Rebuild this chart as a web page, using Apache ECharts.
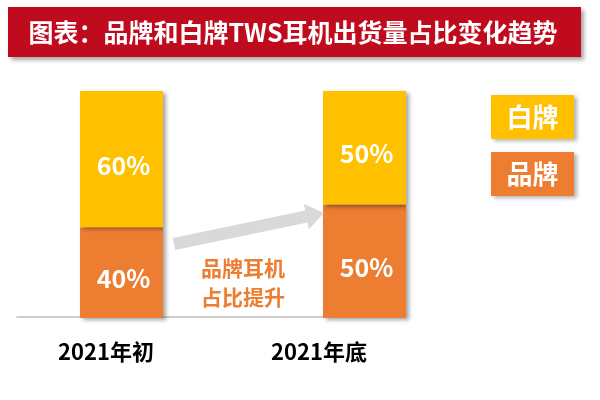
<!DOCTYPE html>
<html>
<head>
<meta charset="utf-8">
<script src="https://cdn.jsdelivr.net/npm/echarts@6/dist/echarts.min.js"></script>
<style>html,body{margin:0;padding:0;background:#fff}#c{width:600px;height:400px}</style>
</head>
<body>
<div id="c"></div>
<script>
var titleText = '图表：品牌和白牌TWS耳机出货量占比变化趋势';
var categories = ['2021年初', '2021年底'];
var brandShare = [40, 50];      // 品牌
var whiteShare = [60, 50];      // 白牌
var seriesNames = ['品牌', '白牌'];
var noteText = '品牌耳机\n占比提升';

var FONT = '"Noto Sans CJK SC", "Noto Sans", sans-serif';
var ORANGE = '#ED7D31', YELLOW = '#FFC000', RED = '#C00A1E';

var chart = echarts.init(document.getElementById('c'));
var barShadow = {shadowColor: 'rgba(0,0,0,0.35)', shadowBlur: 4, shadowOffsetX: 3, shadowOffsetY: 2};
var labelStyle = {show: true, position: 'inside', formatter: '{c}%', color: '#fff',
  fontSize: 25, fontWeight: 'bold', fontFamily: FONT, offset: [2, 6]};
function legendBox(color) {
  return {backgroundColor: color, width: 83, height: 44, lineHeight: 44, align: 'center',
    color: '#fff', fontSize: 26, fontWeight: 'bold', fontFamily: FONT,
    shadowColor: 'rgba(0,0,0,0.3)', shadowBlur: 4, shadowOffsetX: 3, shadowOffsetY: 2};
}

chart.setOption({
  animation: false,
  grid: [
    {left: 0, width: 486, top: 91, height: 227},
    {left: 17, width: 383, top: 91, height: 226}
  ],
  xAxis: [
    {type: 'category', gridIndex: 0, data: categories,
      axisLine: {show: false}, axisTick: {show: false},
      axisLabel: {margin: 23, interval: 0,
        formatter: function (v, i) { return '{l' + i + '|' + v + '}'; },
        rich: {
          l0: {fontSize: 22, fontWeight: 'bold', color: '#000', fontFamily: FONT, padding: [0, 31, 0, 0]},
          l1: {fontSize: 22, fontWeight: 'bold', color: '#000', fontFamily: FONT, padding: [0, 91, 0, 0]}
        }}},
    {type: 'category', gridIndex: 1, data: ['', ''],
      axisLine: {show: true, lineStyle: {color: '#BFBFBF', width: 1.5}},
      axisTick: {show: false}, axisLabel: {show: false}}
  ],
  yAxis: [
    {type: 'value', gridIndex: 0, min: 0, max: 100, show: false},
    {type: 'value', gridIndex: 1, min: 0, max: 100, show: false}
  ],
  legend: {
    orient: 'vertical', left: 486, top: 95, itemGap: 13, selectedMode: false, padding: 0,
    itemWidth: 0, itemHeight: 0, icon: 'rect',
    data: [seriesNames[1], seriesNames[0]],
    formatter: function (name) { return '{' + (name === seriesNames[1] ? 'w' : 'b') + '|' + name + '}'; },
    textStyle: {rich: {w: legendBox(YELLOW), b: legendBox(ORANGE)}}
  },
  series: [
    {name: seriesNames[0], type: 'bar', stack: 's', barWidth: 83, data: brandShare,
      itemStyle: Object.assign({color: ORANGE}, barShadow), label: labelStyle},
    {name: seriesNames[1], type: 'bar', stack: 's', barWidth: 83, data: whiteShare,
      itemStyle: Object.assign({color: YELLOW}, barShadow), label: labelStyle}
  ],
  graphic: [
    {type: 'rect', shape: {x: 8, y: 7, width: 573, height: 50}, z: 10,
      style: {fill: RED, shadowColor: 'rgba(0,0,0,0.35)', shadowBlur: 4, shadowOffsetX: 3, shadowOffsetY: 3}},
    {type: 'text', x: 293, y: 32, z: 11,
      style: {text: titleText, fill: '#fff', font: 'bold 25px ' + FONT, textAlign: 'center', textVerticalAlign: 'middle'}},
    {type: 'polygon', z: 5,
      shape: {points: [[172.8, 238.1], [305.2, 210.6], [303.8, 203.8], [324, 213], [308.8, 229.3], [307.5, 222.4], [175.2, 249.9]]},
      style: {fill: '#D9D9D9'}},
    {type: 'text', x: 243, y: 254, z: 11,
      style: {text: noteText, fill: ORANGE, font: 'bold 21px ' + FONT, lineHeight: 29, textAlign: 'center', textVerticalAlign: 'top'}}
  ]
});
</script>
</body>
</html>
